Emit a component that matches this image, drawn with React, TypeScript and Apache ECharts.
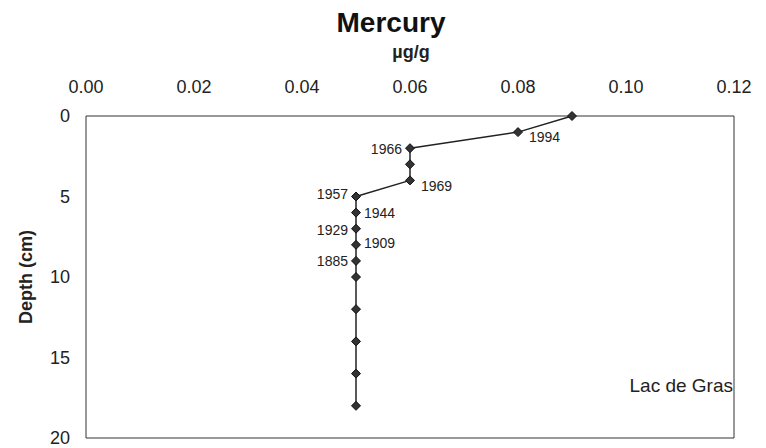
import React, { useEffect, useRef } from "react";
import * as echarts from "echarts";

const mercury = [0.09, 0.08, 0.06, 0.06, 0.06, 0.05, 0.05, 0.05, 0.05, 0.05, 0.05, 0.05, 0.05, 0.05, 0.05];
const depth = [0, 1, 2, 3, 4, 5, 6, 7, 8, 9, 10, 12, 14, 16, 18];
const years = ["", "1994", "1966", "", "1969", "1957", "1944", "1929", "1909", "1885", "", "", "", "", ""];
const labelSide = ["", "right", "left", "", "right", "left", "right", "left", "right", "left", "", "", "", "", ""];
const xTicks = { min: 0, max: 0.12, interval: 0.02 };
const yTicks = { min: 0, max: 20, interval: 5 };

// label nudges (style only)
const labelNudge: Record<string, number[]> = {
  "1994": [3, 5],
  "1966": [0, 1],
  "1969": [3, 6],
  "1957": [0, -3],
  "1944": [0, 0],
  "1929": [0, 1],
  "1909": [0, -2],
  "1885": [0, 0],
};

const FONT = "'Liberation Sans', Arial, sans-serif";

export default function App() {
  const ref = useRef<HTMLDivElement>(null);
  useEffect(() => {
    if (!ref.current) return;
    const chart = echarts.init(ref.current, undefined, { renderer: "svg" });
    const data = mercury.map((m, i) => {
      const item: any = { value: [m, depth[i]] };
      if (years[i]) {
        const right = labelSide[i] === "right";
        item.label = {
          show: true,
          formatter: years[i],
          position: right ? "right" : "left",
          distance: 3,
          offset: labelNudge[years[i]] || [0, 0],
        };
      }
      return item;
    });
    chart.setOption({
      animation: false,
      textStyle: { fontFamily: FONT },
      graphic: [
        {
          type: "text",
          x: 391,
          y: 22,
          style: {
            text: "Mercury",
            font: `bold 28px ${FONT}`,
            fill: "#111",
            align: "center",
            verticalAlign: "middle",
          },
        },
        {
          type: "text",
          x: 411,
          y: 52,
          style: {
            text: "µg/g",
            font: `bold 18px ${FONT}`,
            fill: "#222",
            align: "center",
            verticalAlign: "middle",
          },
        },
        {
          type: "text",
          x: 733,
          y: 385,
          style: {
            text: "Lac de Gras",
            font: `19px ${FONT}`,
            fill: "#222",
            align: "right",
            verticalAlign: "middle",
          },
        },
      ],
      grid: {
        left: 86,
        top: 116,
        width: 648,
        height: 322,
        show: true,
        borderColor: "#333",
        borderWidth: 1,
        backgroundColor: "transparent",
      },
      xAxis: {
        type: "value",
        position: "top",
        min: xTicks.min,
        max: xTicks.max,
        interval: xTicks.interval,
        axisLine: { show: false },
        axisTick: { show: false },
        splitLine: { show: false },
        axisLabel: {
          fontSize: 18,
          color: "#222",
          margin: 20,
          formatter: (v: number) => v.toFixed(2),
        },
      },
      yAxis: {
        type: "value",
        inverse: true,
        min: yTicks.min,
        max: yTicks.max,
        interval: yTicks.interval,
        name: "Depth (cm)",
        nameLocation: "middle",
        nameRotate: 90,
        nameGap: 51,
        nameTextStyle: { fontSize: 18, fontWeight: "bold", color: "#222" },
        axisLine: { show: false },
        axisTick: { show: false },
        splitLine: { show: false },
        axisLabel: { fontSize: 18, color: "#222", margin: 16 },
      },
      series: [
        {
          type: "line",
          data,
          symbol: "diamond",
          symbolSize: 9,
          itemStyle: { color: "#333", borderColor: "#111", borderWidth: 1 },
          lineStyle: { color: "#222", width: 1.5 },
          label: { fontSize: 14, color: "#222" },
        },
      ],
    });
    return () => chart.dispose();
  }, []);
  return (
    <div
      ref={ref}
      style={{ position: "fixed", left: 0, top: 0, width: 766, height: 448, background: "#fff" }}
    />
  );
}
